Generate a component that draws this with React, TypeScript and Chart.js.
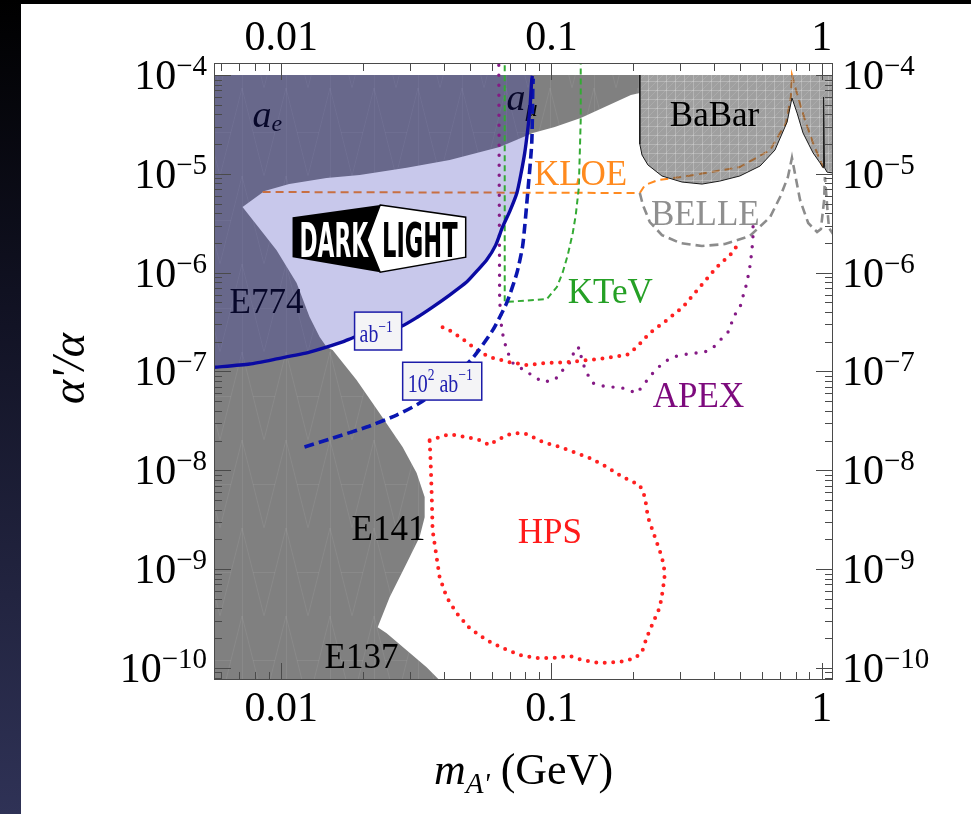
import React, { useEffect, useRef } from "react";
import { Chart, registerables } from "chart.js";

Chart.register(...registerables);

type Pt = [number, number];

// Axis limits: m_A' in GeV, alpha'/alpha
const X_MIN = 0.005638;
const X_MAX = 1.1012;
const Y_MIN = 7.557e-11;
const Y_MAX = 1.3229e-4;
const Y_CUT = 1e-4; // shaded constraints stop at this coupling
const Y_OFF = 2e-4; // curves that leave through the top of the frame

const massTicks = [0.01, 0.1, 1];
const massTickLabels = ["0.01", "0.1", "1"];
const couplingDecades = [-4, -5, -6, -7, -8, -9, -10];

// Lower edge of the a_mu / a_e exclusion, right to left
const gMinus2Edge: Pt[] = [
  [0.2123, 6.58e-5], [0.1968, 6.28e-5], [0.1574, 4.74e-5], [0.1283, 3.67e-5],
  [0.1028, 2.98e-5], [0.0853, 2.59e-5], [0.0643, 1.87e-5], [0.042, 1.38e-5],
  [0.0291, 1.15e-5], [0.0195, 9.73e-6], [0.0147, 9.07e-6], [0.0107, 7.9e-6],
  [0.00867, 6.7e-6], [0.00719, 4.61e-6],
];

// Beam-dump exclusion edge (E774, E141, E137), top to bottom
const beamDumpEdge: Pt[] = [
  [0.00719, 4.61e-6], [0.00817, 2.96e-6], [0.00961, 1.69e-6], [0.0114, 7.85e-7],
  [0.01273, 3.56e-7], [0.01387, 2.23e-7], [0.01472, 1.77e-7], [0.01549, 1.65e-7],
  [0.019, 8.19e-8], [0.02312, 3.79e-8], [0.02812, 1.72e-8], [0.0317, 9.37e-9],
  [0.03394, 5.36e-9], [0.03394, 3.36e-9], [0.03251, 2.11e-9], [0.02911, 1.15e-9],
  [0.02518, 5.21e-10], [0.02274, 2.59e-10], [0.02455, 2.25e-10], [0.02911, 1.51e-10],
  [0.03451, 1.02e-10], [0.03855, 7.5e-11],
];

// BaBar exclusion, lower edge left to right
const babarEdge: Pt[] = [
  [0.2123, 2.0e-5], [0.2163, 1.55e-5], [0.2275, 1.23e-5], [0.2564, 9.51e-6],
  [0.3041, 8.26e-6], [0.3606, 7.88e-6], [0.4198, 8.45e-6], [0.4977, 9.51e-6],
  [0.5916, 1.2e-5], [0.6714, 1.74e-5], [0.7447, 3.34e-5], [0.7762, 5.85e-5],
  [0.811, 4.12e-5], [0.8531, 2.59e-5], [0.929, 1.63e-5], [0.9863, 1.29e-5],
  [1.012, 1.15e-5], [1.016, 5.99e-5], [1.025, 1.15e-5], [1.047, 1.04e-5],
  [1.102, 1.02e-5],
];

const kloe: Pt[] = [
  [0.00853, 6.55e-6], [0.2123, 6.4e-6], [0.2218, 7.7e-6], [0.2477, 8.65e-6],
  [0.3041, 9.29e-6], [0.4977, 1.17e-5], [0.6442, 1.74e-5], [0.7379, 3.27e-5],
  [0.7691, 5.99e-5], [0.7762, 1e-4], [0.817, 5.99e-5], [0.867, 3.51e-5],
  [0.929, 2.05e-5], [0.986, 1.38e-5], [1.012, 1.17e-5],
];

const belle: Pt[] = [
  [0.2123, 6.4e-6], [0.218, 4.83e-6], [0.2312, 3.25e-6], [0.2564, 2.4e-6],
  [0.2985, 2.0e-6], [0.3606, 1.86e-6], [0.4387, 1.95e-6], [0.542, 2.35e-6],
  [0.6442, 3.65e-6], [0.7015, 5.82e-6], [0.7499, 9.29e-6], [0.7762, 1.45e-5],
  [0.7889, 1.15e-5], [0.8318, 5.43e-6], [0.8913, 3.18e-6], [0.9616, 2.58e-6],
  [0.9934, 2.76e-6], [1.021, 5.43e-6], [1.028, 9.29e-6], [1.047, 4.83e-6],
  [1.064, 2.83e-6], [1.102, 2.46e-6],
];

const ktev: Pt[] = [
  [0.06714, Y_OFF], [0.06714, 5.04e-7], [0.09616, 5.41e-7], [0.1047, 7.15e-7],
  [0.1101, 1.01e-6], [0.1149, 1.51e-6], [0.1199, 2.52e-6], [0.123, 3.83e-6],
  [0.1262, 7.18e-6], [0.1274, 1.74e-5], [0.1283, 3.51e-5], [0.1283, Y_OFF],
];

const apex: Pt[] = [
  [0.0638, Y_OFF], [0.0643, 5.28e-7], [0.06546, 2.62e-7], [0.06823, 1.65e-7],
  [0.07194, 1.22e-7], [0.08453, 9.2e-8], [0.0929, 7.82e-8], [0.1028, 8.19e-8],
  [0.1101, 1.03e-7], [0.1189, 1.3e-7], [0.1219, 1.73e-7], [0.1274, 1.73e-7],
  [0.1294, 1.3e-7], [0.1352, 9.63e-8], [0.1422, 7.64e-8], [0.1603, 6.95e-8],
  [0.1791, 6.95e-8], [0.207, 6.04e-8], [0.2218, 7.64e-8], [0.2372, 9.63e-8],
  [0.2583, 1.22e-7], [0.2812, 1.4e-7], [0.3062, 1.47e-7], [0.3334, 1.54e-7],
  [0.3631, 1.54e-7], [0.3954, 1.73e-7], [0.4315, 2.23e-7], [0.4571, 2.62e-7],
  [0.4699, 3.56e-7], [0.4977, 4.38e-7], [0.5105, 5.66e-7], [0.5284, 7.85e-7],
  [0.542, 1.14e-6], [0.5521, 1.69e-6], [0.5572, 2.4e-6], [0.5572, 3.25e-6],
];

const hpsResonance: Pt[] = [
  [0.03954, 2.81e-7], [0.04305, 2.51e-7], [0.04853, 1.99e-7], [0.0542, 1.57e-7],
  [0.06063, 1.37e-7], [0.07015, 1.24e-7], [0.0811, 1.16e-7], [0.09616, 1.22e-7],
  [0.114, 1.24e-7], [0.1352, 1.3e-7], [0.1603, 1.37e-7], [0.1901, 1.47e-7],
  [0.207, 1.77e-7], [0.2312, 2.45e-7], [0.2673, 3.31e-7], [0.3062, 4.48e-7],
  [0.354, 7.15e-7], [0.4093, 1.14e-6], [0.4699, 1.62e-6], [0.4819, 1.82e-6],
];

const hpsVertex: Pt[] = [
  [0.0354, 2.02e-8], [0.04198, 2.32e-8], [0.04853, 2.17e-8], [0.0542, 2.02e-8],
  [0.05902, 1.8e-8], [0.06266, 2.02e-8], [0.07015, 2.32e-8], [0.07447, 2.38e-8],
  [0.0811, 2.32e-8], [0.0929, 1.93e-8], [0.1074, 1.72e-8], [0.1242, 1.49e-8],
  [0.1387, 1.33e-8], [0.1603, 1.08e-8], [0.1837, 8.53e-9], [0.2123, 7.08e-9],
  [0.2218, 5.36e-9], [0.2275, 3.36e-9], [0.2415, 2.11e-9], [0.2564, 1.32e-9],
  [0.263, 9.12e-10], [0.2583, 6.12e-10], [0.2518, 4.12e-10], [0.2372, 2.84e-10],
  [0.2254, 2.05e-10], [0.2163, 1.45e-10], [0.2037, 1.26e-10], [0.1791, 1.15e-10],
  [0.151, 1.12e-10], [0.1306, 1.2e-10], [0.1169, 1.32e-10], [0.1012, 1.26e-10],
  [0.08831, 1.26e-10], [0.07638, 1.35e-10], [0.06592, 1.59e-10], [0.05754, 1.91e-10],
  [0.04977, 2.53e-10], [0.04457, 3.59e-10], [0.04093, 5.21e-10], [0.03855, 8.3e-10],
  [0.03758, 1.32e-9], [0.03631, 2.48e-9], [0.03606, 5.36e-9], [0.03573, 1.18e-8],
  [0.0354, 2.02e-8],
];

// DarkLight reach, 1 ab^-1
const darkLight1: Pt[] = [
  [0.0056, 1.1e-7], [0.00764, 1.19e-7], [0.00961, 1.34e-7], [0.01273, 1.57e-7],
  [0.01687, 1.99e-7], [0.01868, 2.23e-7], [0.02216, 2.51e-7], [0.0279, 2.88e-7],
  [0.03198, 3.56e-7], [0.03631, 4.48e-7], [0.04198, 5.93e-7], [0.04853, 8.03e-7],
  [0.05333, 1.06e-6], [0.05754, 1.34e-6], [0.06218, 1.9e-6], [0.06592, 2.9e-6],
  [0.07015, 4.2e-6], [0.07447, 6.4e-6], [0.07696, 9.73e-6], [0.07962, 1.63e-5],
  [0.08166, 2.77e-5], [0.08318, 4.43e-5], [0.08453, 8.89e-5], [0.085, 9.8e-5],
];

// DarkLight reach, 10^2 ab^-1
const darkLight100: Pt[] = [
  [0.01219, 1.72e-8], [0.01549, 2.12e-8], [0.0207, 2.74e-8], [0.02673, 3.62e-8],
  [0.03251, 4.79e-8], [0.04093, 7.64e-8], [0.05112, 1.37e-7], [0.06063, 2.62e-7],
  [0.06823, 4.92e-7], [0.07447, 9.91e-7], [0.0783, 1.9e-6], [0.08166, 6.4e-6],
  [0.08453, 2.05e-5], [0.08531, 7.56e-5], [0.0856, 9.2e-5],
];

type Label = { text: string; x: number; y: number; color: string };
const regionLabels: Label[] = [
  { text: "BaBar", x: 0.2742, y: 3.05e-5, color: "#000000" },
  { text: "KLOE", x: 0.0861, y: 7.7e-6, color: "#ff8a1e" },
  { text: "BELLE", x: 0.2333, y: 3.03e-6, color: "#8f8f8f" },
  { text: "KTeV", x: 0.1149, y: 4.92e-7, color: "#25a025" },
  { text: "APEX", x: 0.2372, y: 4.37e-8, color: "#7d0a7d" },
  { text: "HPS", x: 0.075, y: 1.83e-9, color: "#ff1a1a" },
  { text: "E141", x: 0.01821, y: 1.97e-9, color: "#000000" },
  { text: "E137", x: 0.01446, y: 1.0e-10, color: "#000000" },
];
const shadedLabels: Label[] = [
  { text: "E774", x: 0.00644, y: 3.9e-7, color: "#000000" },
];

const SERIF = '"Liberation Serif", "Times New Roman", Times, serif';
type Run = { t: string; size: number; italic?: boolean; dy?: number };
const fontOf = (r: Run) => `${r.italic ? "italic " : ""}${r.size}px ${SERIF}`;

function runsWidth(c: CanvasRenderingContext2D, runs: Run[]) {
  let w = 0;
  for (const r of runs) {
    c.font = fontOf(r);
    w += c.measureText(r.t).width;
  }
  return w;
}
function drawRuns(c: CanvasRenderingContext2D, runs: Run[], x: number, y: number) {
  let cx = x;
  for (const r of runs) {
    c.font = fontOf(r);
    c.fillText(r.t, cx, y + (r.dy || 0));
    cx += c.measureText(r.t).width;
  }
}

const toXY = (a: Pt[]) => a.map(([x, y]) => ({ x, y }));

function makePattern(
  ctx: CanvasRenderingContext2D,
  w: number,
  h: number,
  base: string,
  paint: (c: CanvasRenderingContext2D) => void
) {
  const t = document.createElement("canvas");
  t.width = w;
  t.height = h;
  const c = t.getContext("2d")!;
  c.fillStyle = base;
  c.fillRect(0, 0, w, h);
  paint(c);
  return ctx.createPattern(t, "repeat")!;
}

function drawLogo(c: CanvasRenderingContext2D, L: number, T: number, R: number, B: number) {
  const W = R - L;
  const H = B - T;
  const P = (fx: number, fy: number): [number, number] => [L + fx * W, T + fy * H];
  const tl = P(0, 0.18), tm = P(0.506, 0), tr = P(1, 0.18), br = P(1, 0.776);
  const bm = P(0.506, 1), bl = P(0, 0.776), ch = P(0.43, 0.52);
  c.save();
  c.beginPath();
  c.moveTo(...tl); c.lineTo(...tm); c.lineTo(...ch); c.lineTo(...bm); c.lineTo(...bl);
  c.closePath();
  c.fillStyle = "#000";
  c.fill();
  c.beginPath();
  c.moveTo(...tm); c.lineTo(...tr); c.lineTo(...br); c.lineTo(...bm); c.lineTo(...ch);
  c.closePath();
  c.fillStyle = "#fff";
  c.fill();
  c.lineWidth = 1.5;
  c.strokeStyle = "#000";
  c.stroke();
  const capH = 0.52 * H;
  c.font = `bold ${capH / 0.72}px "Liberation Sans Narrow", "DejaVu Sans Condensed", "Liberation Sans", sans-serif`;
  const fit = (t: string, x0: number, x1: number, color: string) => {
    const w = c.measureText(t).width;
    c.save();
    c.translate(L + x0 * W, T + 0.78 * H);
    c.scale(((x1 - x0) * W) / w, 1);
    c.fillStyle = color;
    c.fillText(t, 0, 0);
    c.restore();
  };
  fit("DARK", 0.04, 0.436, "#fff");
  fit("LIGHT", 0.517, 0.953, "#000");
  c.restore();
}

function drawLumiBox(
  c: CanvasRenderingContext2D,
  x0: number, y0: number, x1: number, y1: number,
  runs: Run[]
) {
  c.save();
  c.fillStyle = "#f4f4f6";
  c.fillRect(x0, y0, x1 - x0, y1 - y0);
  c.strokeStyle = "#1c1ca8";
  c.lineWidth = 1.5;
  c.strokeRect(x0, y0, x1 - x0, y1 - y0);
  const natural = runsWidth(c, runs);
  const target = x1 - x0 - 14;
  c.translate(x0 + 5, y1 - 8);
  c.scale(target / natural, 1);
  c.fillStyle = "#2020b0";
  c.textAlign = "left";
  c.textBaseline = "alphabetic";
  drawRuns(c, runs, 0, 0);
  c.restore();
}

export default function App() {
  const ref = useRef<HTMLCanvasElement>(null);

  useEffect(() => {
    const canvas = ref.current;
    if (!canvas) return;
    const ctx = canvas.getContext("2d")!;

    // faint mesh texture of the shaded constraint regions
    const greyFill = makePattern(ctx, 44, 88, "#808080", (c) => {
      c.strokeStyle = "rgba(255,255,255,0.075)";
      c.lineWidth = 1;
      c.beginPath();
      c.moveTo(0, 88); c.lineTo(22, 0); c.lineTo(44, 88);
      c.moveTo(22.5, 0); c.lineTo(22.5, 88);
      c.moveTo(0, 44.5); c.lineTo(11, 44.5);
      c.moveTo(33, 44.5); c.lineTo(44, 44.5);
      c.stroke();
    });
    const babarFill = makePattern(ctx, 9, 9, "rgba(78,78,78,0.54)", (c) => {
      c.strokeStyle = "rgba(255,255,255,0.24)";
      c.lineWidth = 1;
      c.beginPath();
      c.moveTo(0.5, 0); c.lineTo(0.5, 9);
      c.moveTo(0, 0.5); c.lineTo(9, 0.5);
      c.stroke();
      c.strokeStyle = "rgba(255,255,255,0.12)";
      c.beginPath();
      c.moveTo(0, 9); c.lineTo(9, 0);
      c.stroke();
    });

    const greyRegion: Pt[] = [
      [X_MIN, Y_CUT], [gMinus2Edge[0][0], Y_CUT], ...gMinus2Edge,
      ...beamDumpEdge.slice(1), [X_MIN, Y_MIN],
    ];
    const lastDL = darkLight1[darkLight1.length - 1];
    const darkLightRegion: Pt[] = [...darkLight1, [lastDL[0], Y_CUT], [X_MIN, Y_CUT]];
    const babarRegion: Pt[] = [
      [babarEdge[0][0], Y_CUT], ...babarEdge, [babarEdge[babarEdge.length - 1][0], Y_CUT],
    ];
    const babarOutline: Pt[] = [[babarEdge[0][0], Y_CUT], ...babarEdge];

    const none = "rgba(0,0,0,0)";
    const base = { pointRadius: 0, pointHoverRadius: 0, tension: 0, fill: false as any };
    const datasets: any[] = [
      { ...base, data: toXY(greyRegion), fill: "shape", backgroundColor: greyFill, borderColor: none, borderWidth: 1, order: 100 },
      { ...base, data: toXY(kloe), borderColor: "#ff8a20", borderWidth: 2, borderDash: [8, 5], order: 90 },
      { ...base, data: toXY(darkLightRegion), fill: "shape", backgroundColor: "rgba(28,28,172,0.245)", borderColor: none, borderWidth: 1, order: 80 },
      { ...base, data: toXY(babarRegion), fill: "shape", backgroundColor: babarFill, borderColor: none, borderWidth: 1, order: 70 },
      { ...base, data: toXY(babarOutline), borderColor: "#1a1a1a", borderWidth: 1, order: 69 },
      { ...base, data: toXY(belle), borderColor: "#8c8c8c", borderWidth: 2.6, borderDash: [9, 5], order: 60 },
      { ...base, data: toXY(ktev), borderColor: "#33aa33", borderWidth: 2, borderDash: [6, 4], order: 55 },
      { ...base, data: toXY(apex), borderColor: "#851a85", borderWidth: 3.4, borderDash: [0, 10], borderCapStyle: "round", order: 50 },
      { ...base, data: toXY(hpsResonance), borderColor: "#ff2020", borderWidth: 4, borderDash: [0, 8.5], borderCapStyle: "round", order: 45 },
      { ...base, data: toXY(hpsVertex), borderColor: "#ff2020", borderWidth: 4, borderDash: [0, 8.5], borderCapStyle: "round", order: 44 },
      { ...base, data: toXY(darkLight100), borderColor: "#0a16b0", borderWidth: 3.6, borderDash: [10, 5], tension: 0.2, order: 20 },
      { ...base, data: toXY(darkLight1), borderColor: "#0a0aa2", borderWidth: 3.4, tension: 0.2, order: 10 },
    ];

    const pagePlugin = {
      id: "page",
      beforeDraw(chart: any) {
        const c: CanvasRenderingContext2D = chart.ctx;
        const W = chart.width, H = chart.height;
        c.save();
        c.fillStyle = "#000";
        c.fillRect(0, 0, W, H);
        const g = c.createLinearGradient(0, 0, 0, H);
        g.addColorStop(0, "#000000");
        g.addColorStop(0.4, "#121325");
        g.addColorStop(1, "#2f3256");
        c.fillStyle = g;
        c.fillRect(0, 0, 21, H);
        c.fillStyle = "#fff";
        c.fillRect(21, 4, W - 21, H - 4);
        c.restore();
      },
    };

    const labelPlugin = {
      id: "labels",
      afterDatasetDraw(chart: any, args: any) {
        if (args.index !== 0) return;
        const c: CanvasRenderingContext2D = chart.ctx;
        const xs = chart.scales.x, ys = chart.scales.y;
        c.save();
        c.textBaseline = "alphabetic";
        c.fillStyle = "#000";
        drawRuns(c, [{ t: "a", size: 38, italic: true }, { t: "e", size: 24, italic: true, dy: 4 }],
          xs.getPixelForValue(0.00783), ys.getPixelForValue(2.98e-5));
        drawRuns(c, [{ t: "a", size: 38, italic: true }, { t: "\u03bc", size: 24, italic: true, dy: 6 }],
          xs.getPixelForValue(0.06823), ys.getPixelForValue(4.43e-5));
        for (const l of shadedLabels) {
          c.fillStyle = l.color;
          c.font = `35px ${SERIF}`;
          c.fillText(l.text, xs.getPixelForValue(l.x), ys.getPixelForValue(l.y));
        }
        c.restore();
      },
      afterDatasetsDraw(chart: any) {
        const c: CanvasRenderingContext2D = chart.ctx;
        const xs = chart.scales.x, ys = chart.scales.y;
        const px = (v: number) => xs.getPixelForValue(v);
        const py = (v: number) => ys.getPixelForValue(v);
        c.save();
        c.textBaseline = "alphabetic";
        c.textAlign = "left";
        for (const l of regionLabels) {
          c.fillStyle = l.color;
          c.font = `35px ${SERIF}`;
          c.fillText(l.text, px(l.x), py(l.y));
        }
        drawLogo(c, px(0.01101), py(4.83e-6), px(0.04815), py(1.01e-6));
        drawLumiBox(c, px(0.01868), py(3.99e-7), px(0.0279), py(1.65e-7), [
          { t: "ab", size: 25 }, { t: "\u22121", size: 17, dy: -10 },
        ]);
        drawLumiBox(c, px(0.02814), py(1.24e-7), px(0.05521), py(5.14e-8), [
          { t: "10", size: 25 }, { t: "2", size: 17, dy: -12 },
          { t: " ab", size: 25 }, { t: "\u22121", size: 17, dy: -12 },
        ]);
        c.restore();
      },
    };

    const framePlugin = {
      id: "frame",
      afterDraw(chart: any) {
        const c: CanvasRenderingContext2D = chart.ctx;
        const a = chart.chartArea;
        const xs = chart.scales.x, ys = chart.scales.y;
        c.save();
        c.strokeStyle = "#4a4a4a";
        c.lineWidth = 1;
        c.strokeRect(a.left + 0.5, a.top + 0.5, a.right - a.left - 1, a.bottom - a.top - 1);
        c.beginPath();
        for (let d = -3; d <= 0; d++) {
          for (let k = 1; k <= 9; k++) {
            const v = k * Math.pow(10, d);
            if (v < X_MIN || v > X_MAX) continue;
            const x = Math.round(xs.getPixelForValue(v)) + 0.5;
            const len = k === 1 ? 17 : 8;
            c.moveTo(x, a.bottom); c.lineTo(x, a.bottom - len);
            c.moveTo(x, a.top); c.lineTo(x, a.top + len);
          }
        }
        for (let d = -11; d <= -4; d++) {
          for (let k = 1; k <= 9; k++) {
            const v = k * Math.pow(10, d);
            if (v < Y_MIN || v > Y_MAX) continue;
            const y = Math.round(ys.getPixelForValue(v)) + 0.5;
            const len = k === 1 ? 17 : 8;
            c.moveTo(a.left, y); c.lineTo(a.left + len, y);
            c.moveTo(a.right, y); c.lineTo(a.right - len, y);
          }
        }
        c.stroke();

        c.fillStyle = "#000";
        c.textBaseline = "alphabetic";
        c.textAlign = "center";
        c.font = `42px ${SERIF}`;
        massTicks.forEach((v, i) => {
          const x = xs.getPixelForValue(v);
          c.fillText(massTickLabels[i], x, a.bottom + 41);
          c.fillText(massTickLabels[i], x, a.top - 13);
        });
        c.textAlign = "left";
        for (const e of couplingDecades) {
          const y = ys.getPixelForValue(Math.pow(10, e));
          const runs: Run[] = [{ t: "10", size: 42 }, { t: "\u2212" + String(-e), size: 29, dy: -14 }];
          const w = runsWidth(c, runs);
          drawRuns(c, runs, a.left - 7 - w, y + 14);
          drawRuns(c, runs, a.right + 9, y + 14);
        }

        // axis titles
        c.save();
        c.translate(72, (a.top + a.bottom) / 2 - 3);
        c.rotate(-Math.PI / 2);
        c.textAlign = "center";
        c.textBaseline = "middle";
        c.font = `italic 46px ${SERIF}`;
        c.fillText("\u03b1'/\u03b1", 0, 0);
        c.restore();

        const title: Run[] = [
          { t: "m", size: 44, italic: true },
          { t: "A'", size: 29, italic: true, dy: 9 },
          { t: " (GeV)", size: 44 },
        ];
        const tw = runsWidth(c, title);
        c.textAlign = "left";
        drawRuns(c, title, (a.left + a.right) / 2 - tw / 2, 784);
        c.restore();
      },
    };

    const chart = new Chart(canvas, {
      type: "line",
      data: { datasets },
      options: {
        responsive: false,
        animation: false,
        devicePixelRatio: 1,
        events: [],
        layout: { padding: { left: 214, top: 63, right: 138, bottom: 134 } },
        plugins: { legend: { display: false }, tooltip: { enabled: false } },
        scales: {
          x: { type: "logarithmic", min: X_MIN, max: X_MAX, display: false },
          y: { type: "logarithmic", min: Y_MIN, max: Y_MAX, display: false },
        },
      },
      plugins: [pagePlugin, labelPlugin, framePlugin],
    } as any);

    return () => chart.destroy();
  }, []);

  return (
    <div style={{ position: "fixed", left: 0, top: 0, width: 971, height: 814 }}>
      <canvas ref={ref} width={971} height={814} style={{ display: "block" }} />
    </div>
  );
}
